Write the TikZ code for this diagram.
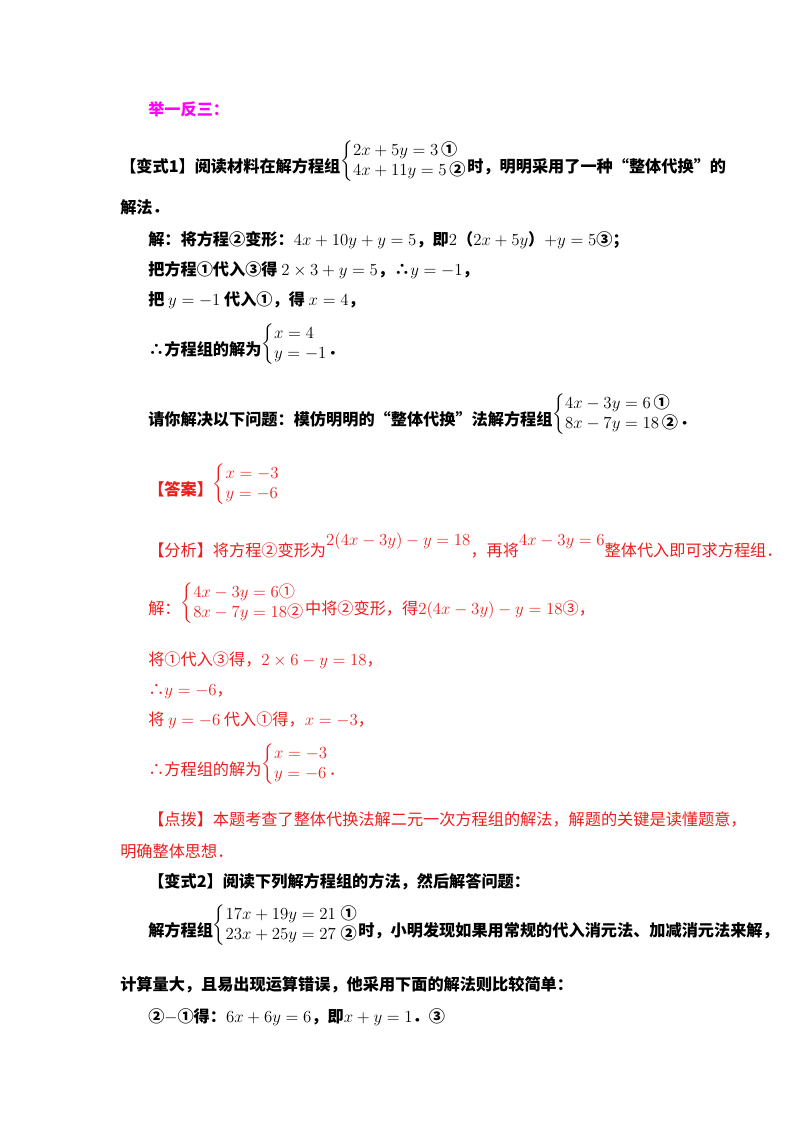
\documentclass[tikz,border=0pt]{standalone}
\usepackage{amsmath}
\usepackage{fontspec}
\setmainfont{Noto Sans CJK SC}
\usetikzlibrary{positioning}
\definecolor{hint}{RGB}{255,0,255}
\definecolor{ans}{RGB}{235,30,30}
\newcommand{\sys}[2]{\raisebox{4.6pt}{$\left\{\begin{array}{@{}l@{}}#1\\#2\end{array}\right.$}}
\begin{document}
\begin{tikzpicture}[x=0.025cm,y=-0.025cm,
	txt/.style={anchor=base west, inner sep=0pt, font=\fontsize{11.5}{14}\selectfont},
	bld/.style={txt, font=\fontsize{11.5}{14}\selectfont\bfseries},
	red/.style={txt, text=ans}]
	\useasboundingbox (0,0) rectangle (800,1132);
	% first exercise
	\node[bld, text=hint] (title) at (148,115) {举一反三：};
	\node[bld] (v1a) at (120,172) {【变式1】阅读材料在解方程组\sys{2x+5y=3\,\mbox{①}}{4x+11y=5\,\mbox{②}}时，明明采用了一种“整体代换”的};
	\node[bld] (v1b) at (120,213) {解法．};
	\node[bld] (s1) at (148,245) {解：将方程②变形：$4x+10y+y=5$，即$2$（$2x+5y$）$+y=5$③；};
	\node[bld] (s2) at (148,275) {把方程①代入③得 $2\times3+y=5$，∴$y=-1$，};
	\node[bld] (s3) at (148,305) {把 $y=-1$ 代入①，得 $x=4$，};
	\node[bld] (s4) at (148,355) {∴方程组的解为\sys{x=4}{y=-1}．};
	\node[bld] (q1) at (148,425) {请你解决以下问题：模仿明明的“整体代换”法解方程组\sys{4x-3y=6\,\mbox{①}}{8x-7y=18\,\mbox{②}}．};
	% answer
	\node[red, font=\fontsize{11.5}{14}\selectfont\bfseries] (ans) at (148,495) {【答案】\sys{x=-3}{y=-6}};
	\node[red] (an1) at (148,556) {【分析】将方程②变形为\raisebox{1.2ex}{$2(4x-3y)-y=18$}，再将\raisebox{1.2ex}{$4x-3y=6$}整体代入即可求方程组．};
	\node[red] (an2) at (148,614) {解：\sys{4x-3y=6\mbox{①}}{8x-7y=18\mbox{②}}中将②变形，得$2(4x-3y)-y=18$③，};
	\node[red] (an3) at (148,665) {将①代入③得，$2\times6-y=18$，};
	\node[red] (an4) at (148,695) {∴$y=-6$，};
	\node[red] (an5) at (148,725) {将 $y=-6$ 代入①得，$x=-3$，};
	\node[red] (an6) at (148,775) {∴方程组的解为\sys{x=-3}{y=-6}．};
	\node[red] (tip1) at (148,825) {【点拨】本题考查了整体代换法解二元一次方程组的解法，解题的关键是读懂题意，};
	\node[red] (tip2) at (120,857) {明确整体思想．};
	% second exercise
	\node[bld] (v2a) at (148,887) {【变式2】阅读下列解方程组的方法，然后解答问题：};
	\node[bld] (v2b) at (148,936) {解方程组\sys{17x+19y=21\;\mbox{①}}{23x+25y=27\;\mbox{②}}时，小明发现如果用常规的代入消元法、加减消元法来解，};
	\node[bld] (v2c) at (120,990) {计算量大，且易出现运算错误，他采用下面的解法则比较简单：};
	\node[bld] (v2d) at (148,1022) {②$-$①得：$6x+6y=6$，即$x+y=1$．③};
\end{tikzpicture}
\end{document}
